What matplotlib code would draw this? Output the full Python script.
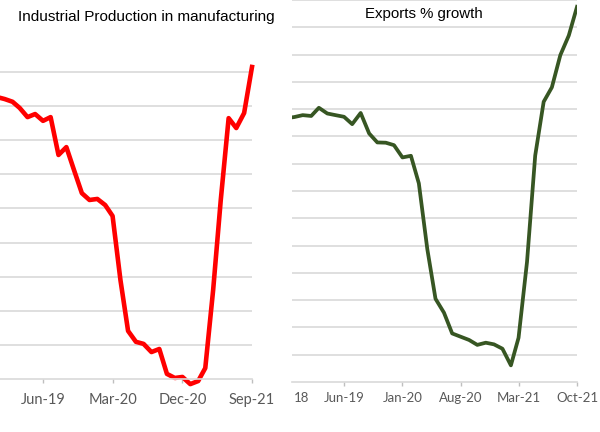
import numpy as np
import pandas as pd
import matplotlib
matplotlib.use('Agg')
import matplotlib.pyplot as plt
import matplotlib.dates as mdates

# 製造業の鉱工業生産（左）: 目盛り無しなのでグリッド単位で読み取り
ip_months = pd.date_range('2018-12-01', '2021-09-01', freq='MS')
ip_values = [8.27, 8.21, 8.13, 7.95, 7.68, 7.77, 7.57, 7.68, 6.57, 6.80,
             6.13, 5.45, 5.25, 5.28, 5.10, 4.78, 2.90, 1.41, 1.09, 1.03,
             0.79, 0.88, 0.15, 0.03, 0.06, -0.15, -0.06, 0.32, 2.61, 5.25,
             7.65, 7.36, 7.80, 9.15]
ip_ticks = ['2019-06-01', '2020-03-01', '2020-12-01', '2021-09-01']
ip_labels = ['Jun-19', 'Mar-20', 'Dec-20', 'Sep-21']

# 輸出の伸び率（右）
exp_months = pd.date_range('2018-11-01', '2021-10-01', freq='MS')
exp_values = [9.67, 9.71, 9.78, 9.75, 10.05, 9.84, 9.78, 9.72, 9.45, 9.86,
              9.11, 8.78, 8.77, 8.68, 8.23, 8.29, 7.28, 4.87, 3.05, 2.54,
              1.78, 1.66, 1.54, 1.36, 1.44, 1.38, 1.22, 0.61, 1.62, 4.4,
              8.3, 10.27, 10.8, 11.98, 12.7, 13.75]
exp_ticks = ['2019-06-01', '2020-01-01', '2020-08-01', '2021-03-01',
             '2021-10-01']
exp_labels = ['Jun-19', 'Jan-20', 'Aug-20', 'Mar-21', 'Oct-21']
exp_cut_label = '18'   # 左端で切れて見えている最初のラベルの残り

W, H = 600, 432
fig = plt.figure(figsize=(W / 100, H / 100), dpi=100)
fig.patch.set_facecolor('white')

GRID = '#d9d9d9'
TICKC = '#595959'


def px_axes(l, t, r, b):
    return fig.add_axes([l / W, (H - b) / H, (r - l) / W, (b - t) / H])


def style(ax, pad, size):
    for s in ['left', 'right', 'top']:
        ax.spines[s].set_visible(False)
    ax.spines['bottom'].set_color(GRID)
    ax.spines['bottom'].set_linewidth(1.2)
    ax.tick_params(axis='y', length=0, labelleft=False)
    ax.tick_params(axis='x', length=3, width=1, color='#bfbfbf',
                   labelcolor=TICKC, labelsize=size, pad=pad)
    for t in ax.get_xticklabels():
        t.set_fontfamily('Lato')
    ax.grid(axis='y', color=GRID, linewidth=1.2)
    ax.set_axisbelow(True)


# 左パネル
ax1 = px_axes(0, 60, 252, 379)
ax1.plot(ip_months, ip_values, color='#ff0000', linewidth=3.3, clip_on=False)
d0 = mdates.date2num(pd.Timestamp(ip_ticks[0]))
d1 = mdates.date2num(pd.Timestamp(ip_ticks[-1]))
dpp = (d1 - d0) / (252 - 43)
ax1.set_xlim(d0 - 43 * dpp, d1)
ax1.set_ylim(0, 319 / 34.1)
ax1.set_yticks(range(1, 10))
ax1.set_xticks(pd.to_datetime(ip_ticks))
ax1.set_xticklabels(ip_labels)
style(ax1, 7, 10.5)
fig.text(146 / W, 1 - 17 / H, 'Industrial Production in manufacturing',
         ha='center', va='center', fontsize=11, family='Liberation Sans')

# 右パネル
ax2 = px_axes(292, 0, 577, 382)
ax2.plot(exp_months, exp_values, color='#375623', linewidth=2.7)
e0 = mdates.date2num(pd.Timestamp(exp_ticks[0]))
e1 = mdates.date2num(pd.Timestamp(exp_ticks[-1]))
dpp2 = (e1 - e0) / (577 - 344)
ax2.set_xlim(e0 - (344 - 292) * dpp2, e1)
ax2.set_ylim(0, 14)
ax2.set_yticks(range(1, 15))
ax2.set_xticks(pd.to_datetime(exp_ticks))
ax2.set_xticklabels(exp_labels)
style(ax2, 4, 9.5)
ax2.text(0.005, -10 / 382, exp_cut_label, transform=ax2.transAxes,
         ha='left', va='top', fontsize=9.5, color=TICKC, family='Lato')
fig.text(424 / W, 1 - 14 / H, 'Exports % growth',
         ha='center', va='center', fontsize=10.8, family='Liberation Sans')

fig.savefig('out.png', dpi=100)
